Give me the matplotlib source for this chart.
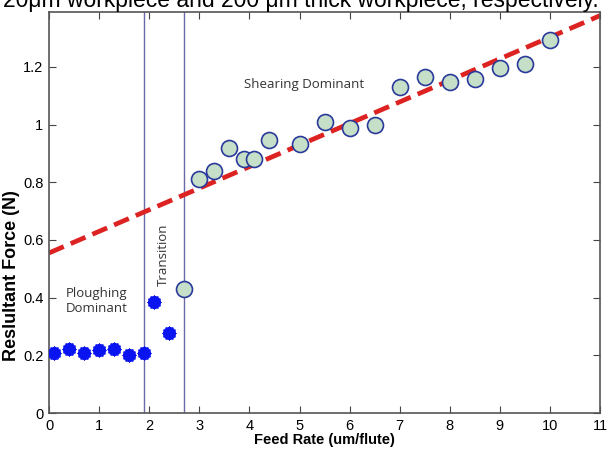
import numpy as np
import matplotlib.pyplot as plt

# ploughing region (filled blue)
plough_x = [0.1, 0.4, 0.7, 1.0, 1.3, 1.6, 1.9, 2.1, 2.4]
plough_y = [0.208, 0.222, 0.208, 0.219, 0.222, 0.200, 0.208, 0.386, 0.279]

# shearing region (open circles)
shear_x = [2.7, 3.0, 3.3, 3.6, 3.9, 4.1, 4.4, 5.0, 5.5, 6.0, 6.5, 7.0, 7.5, 8.0, 8.5, 9.0, 9.5, 10.0]
shear_y = [0.431, 0.813, 0.840, 0.919, 0.880, 0.880, 0.947, 0.932, 1.010, 0.988, 0.998,
           1.129, 1.164, 1.147, 1.158, 1.195, 1.210, 1.294]

# linear fit line
fit_x = [0, 11]
fit_y = [0.555, 1.378]

# region boundaries
bounds = [1.9, 2.7]

fig = plt.figure(figsize=(6.08, 4.5), dpi=100)
ax = fig.add_axes([0.0806, 0.0822, 0.9064, 0.8908])

# caption line from the page above, cropped at the top like the source image
fig.text(0.495, 0.984, "20μm workpiece and 200 μm thick workpiece, respectively.",
         ha='center', va='baseline', fontsize=16.5, family='Liberation Sans')

ax.plot(fit_x, fit_y, color='#dd2222', lw=3.4, ls=(0, (3.4, 1.6)), zorder=2)
for b in bounds:
    ax.axvline(b, color='#6a6aaa', lw=1.0, zorder=1)

ax.plot(plough_x, plough_y, ls='none', marker='o', ms=8.5, mfc='#0a14f0',
        mec='#0a14f0', zorder=3)
ax.plot(plough_x, plough_y, ls='none', marker=(12, 1, 0), ms=10.5, mfc='#0a14f0',
        mec='#0a14f0', mew=0.5, zorder=3)
ax.plot(shear_x, shear_y, ls='none', marker='o', ms=11.5, mfc='#c5dfc8',
        mec='#2a3a9a', mew=1.2, zorder=4)

ax.text(5.1, 1.14, "Shearing Dominant", fontsize=9.5, family='Open Sans',
        color='#333333', ha='center', va='center')
ax.text(0.95, 0.39, "Ploughing\nDominant", fontsize=9.5, family='Open Sans',
        color='#333333', ha='center', va='center', linespacing=1.2)
ax.text(2.28, 0.55, "Transition", fontsize=9.5, family='Open Sans', color='#333333',
        ha='center', va='center', rotation=90)

ax.set_xlim(0, 11)
ax.set_ylim(0, 1.39)
ax.set_xticks(np.arange(0, 12, 1))
ax.set_yticks([0, 0.2, 0.4, 0.6, 0.8, 1.0, 1.2])
ax.set_yticklabels(['0', '0.2', '0.4', '0.6', '0.8', '1', '1.2'])
ax.tick_params(direction='in', top=True, right=True, length=5, width=0.8,
               labelsize=10.5, pad=4, color='#444444')
for lab in ax.get_xticklabels() + ax.get_yticklabels():
    lab.set_family('Liberation Sans')
for sp in ax.spines.values():
    sp.set_color('#555555')
    sp.set_linewidth(1.2)

ax.set_xlabel("Feed Rate (um/flute)", fontsize=10.5, fontweight='bold',
              family='Liberation Sans', labelpad=0)
ax.set_ylabel("Reslultant Force (N)", fontsize=13, fontweight='bold',
              family='Liberation Sans')
ax.yaxis.set_label_coords(-0.052, 0.344)

fig.savefig("out.png", dpi=100)
